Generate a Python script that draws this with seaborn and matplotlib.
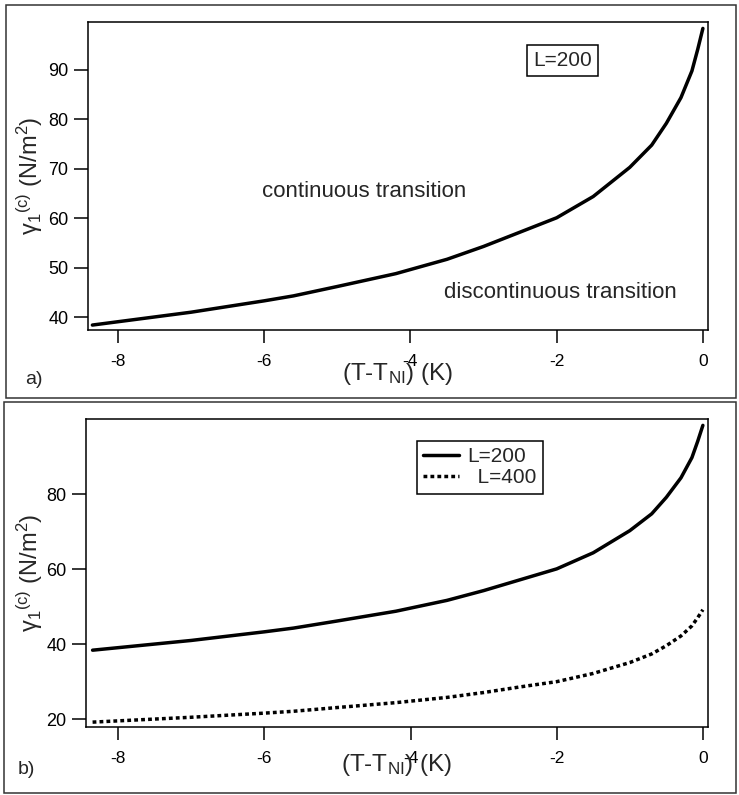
import matplotlib
matplotlib.use('Agg')
import matplotlib.pyplot as plt
import seaborn as sns
from matplotlib.patches import Rectangle

# temperature offset (K) and gamma_1^(c) (N/m^2)
t_vals = [-8.35, -7.0, -6.0, -5.6, -5.0, -4.2, -3.5, -3.0, -2.5, -2.0,
          -1.5, -1.0, -0.7, -0.5, -0.3, -0.15, -0.07, 0.0]
gamma_200 = [38.4, 41.0, 43.3, 44.3, 46.2, 48.8, 51.7, 54.3, 57.2, 60.1,
             64.4, 70.3, 74.8, 79.2, 84.4, 89.8, 94.2, 98.4]
gamma_400 = [19.2, 20.5, 21.6, 22.1, 23.1, 24.4, 25.8, 27.1, 28.6, 30.0,
             32.2, 35.1, 37.4, 39.6, 42.2, 44.9, 47.1, 49.2]

yticks_a = [40, 50, 60, 70, 80, 90]
yticks_b = [20, 40, 60, 80]
xticks = [-8, -6, -4, -2, 0]

sns.set_style('ticks')
plt.rcParams['font.family'] = ['Liberation Sans', 'DejaVu Sans']
plt.rcParams['mathtext.default'] = 'regular'
plt.rcParams['axes.unicode_minus'] = False

fig = plt.figure(figsize=(7.39, 7.95), dpi=100)
W, H = 739, 795

def px_axes(l, t, r, b):
    return fig.add_axes([l / W, 1 - b / H, (r - l) / W, (b - t) / H])

ax1 = px_axes(88, 22, 708, 330)
ax2 = px_axes(86, 419, 708, 727)

ylab = 'γ$_{1}{}^{(c)}$ (N/m$^{2}$)'
xlab = '(T-T$_{NI}$) (K)'

for ax in (ax1, ax2):
    for sp in ax.spines.values():
        sp.set_visible(True)
        sp.set_linewidth(1.1)
        sp.set_color('black')
    ax.set_xticks(xticks)
    ax.tick_params(axis='x', direction='out', length=9.5, width=1.1, pad=8,
                   labelsize=12.5, colors='black')
    ax.tick_params(axis='y', direction='out', length=10, width=1.1, pad=4,
                   labelsize=13, colors='black')
    ax.set_ylabel(ylab, fontsize=17)
    ax.set_xlabel(xlab, fontsize=17.5)

# panel a
sns.lineplot(x=t_vals, y=gamma_200, ax=ax1, color='black', lw=2.5)
ax1.set_xlim(-8.41, 0.07)
ax1.set_ylim(37.4, 99.7)
ax1.set_yticks(yticks_a)
ax1.yaxis.set_label_coords(-0.069, 0.5)
ax1.xaxis.set_label_coords(0.5, -0.10)
ax1.text(0.765, 0.875, 'L=200', transform=ax1.transAxes, ha='center', va='center',
         fontsize=15, bbox=dict(boxstyle='square,pad=0.3', fc='white', ec='black', lw=1.1))
ax1.text(0.2806, 0.432, 'continuous transition', transform=ax1.transAxes,
         ha='left', va='baseline', fontsize=16)
ax1.text(0.574, 0.104, 'discontinuous transition', transform=ax1.transAxes,
         ha='left', va='baseline', fontsize=16)

# panel b
sns.lineplot(x=t_vals, y=gamma_200, ax=ax2, color='black', lw=2.5, label='L=200')
sns.lineplot(x=t_vals, y=gamma_400, ax=ax2, color='black', lw=2.5,
             linestyle=(0, (1.1, 0.9)), label='\u2002L=400')
ax2.set_xlim(-8.44, 0.07)
ax2.set_ylim(17.9, 100.1)
ax2.set_yticks(yticks_b)
ax2.yaxis.set_label_coords(-0.066, 0.5)
ax2.xaxis.set_label_coords(0.5, -0.08)
leg = ax2.legend(loc='upper left', bbox_to_anchor=(0.532, 0.9286), fontsize=15,
                 frameon=True, fancybox=False, framealpha=1, edgecolor='black',
                 handlelength=1.7, handletextpad=0.4, labelspacing=0.1,
                 borderpad=0.3, borderaxespad=0)
leg.get_frame().set_linewidth(1.1)

fig.text(25 / W, 1 - 380 / H, 'a)', fontsize=14, ha='left', va='center')
fig.text(18 / W, 1 - 769 / H, 'b)', fontsize=14, ha='left', va='center')

# outer frames of the two panels
for (l, t, r, b) in [(6, 5, 736, 398), (4, 402, 736, 793)]:
    fig.add_artist(Rectangle((l / W, 1 - b / H), (r - l) / W, (b - t) / H,
                             transform=fig.transFigure, fill=False,
                             ec='#333333', lw=1.1))

fig.savefig('out.png', dpi=100)
